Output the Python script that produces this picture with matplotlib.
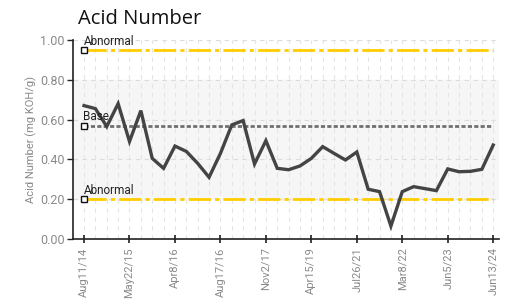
import numpy as np
import matplotlib
matplotlib.use('Agg')
import matplotlib.pyplot as plt

plt.rcParams['font.family'] = ['Roboto', 'DejaVu Sans']

# ── data ──
acid = [0.67, 0.655, 0.565, 0.68, 0.49, 0.645, 0.405, 0.355, 0.467, 0.44,
        0.38, 0.31, 0.43, 0.573, 0.595, 0.377, 0.494, 0.355, 0.348, 0.367,
        0.405, 0.464, 0.43, 0.397, 0.437, 0.25, 0.238, 0.065, 0.238, 0.263,
        0.253, 0.243, 0.352, 0.338, 0.34, 0.35, 0.472]
tick_idx = [0, 4, 8, 12, 16, 20, 24, 28, 32, 36]
tick_labels = ['Aug11/14', 'May22/15', 'Apr8/16', 'Aug17/16', 'Nov2/17',
               'Apr15/19', 'Jul26/21', 'Mar8/22', 'Jun5/23', 'Jun13/24']
limit_names = ['Abnormal', 'Base', 'Abnormal']
limit_values = [0.95, 0.57, 0.20]
band = (0.20, 0.80)

YELLOW = '#FFCC00'
GREY_TXT = '#8a8a8a'

fig = plt.figure(figsize=(5.07, 3.03), dpi=100)
ax = fig.add_axes([0.144, 0.2112, 0.840, 0.657])

x = np.arange(len(acid))
ax.set_xlim(-0.97, len(acid) - 0.5)
ax.set_ylim(0, 1.0)

# normal band
ax.axhspan(band[0], band[1], color='#f6f6f6', zorder=0)

# grid: dashed verticals at every sample, horizontals every 0.2
ax.set_xticks(x, minor=True)
ax.set_xticks(tick_idx)
ax.set_xticklabels(tick_labels, rotation=90, fontsize=8, color=GREY_TXT)
ax.set_yticks(np.arange(0, 1.01, 0.2))
ax.set_yticklabels([f'{v:.2f}' for v in np.arange(0, 1.01, 0.2)],
                   fontsize=9, color=GREY_TXT)
ax.grid(True, which='both', axis='x', color='#e4e4e4', ls=(0, (4, 4)), lw=0.8)
ax.grid(True, which='major', axis='y', color='#dcdcdc', ls=(0, (4, 4)), lw=0.8)
ax.set_axisbelow(True)

ax.tick_params(axis='x', which='major', direction='inout', length=6, width=1.2,
               color='#222222', pad=3)
ax.tick_params(axis='x', which='minor', length=0)
ax.tick_params(axis='y', direction='out', length=4, width=1.0,
               color='#222222', pad=2)

for s in ['top', 'right']:
    ax.spines[s].set_visible(False)
for s in ['left', 'bottom']:
    ax.spines[s].set_color('#222222')
    ax.spines[s].set_linewidth(1.2)

# limit lines
styles = [(YELLOW, (0, (8, 1.5, 1.5, 1.5))),
          ('#707070', (0, (1.5, 0.8))),
          (YELLOW, (0, (8, 1.5, 1.5, 1.5)))]
for name, val, (col, ls) in zip(limit_names, limit_values, styles):
    ax.hlines(val, x[0], x[-1], colors=col, linestyles=ls, lw=2.0, zorder=2)
    ax.plot(x[0], val, marker='s', ms=4.5, mfc='white', mec='#111111',
            mew=1.0, zorder=5, clip_on=False)
    ax.text(x[0] - 0.05, val + 0.012, name, fontsize=8.5, color='#222222',
            ha='left', va='bottom', zorder=6)

# series
ax.plot(x, acid, color='#444444', lw=2.4, solid_joinstyle='miter', zorder=4)

ax.set_ylabel('Acid Number (mg KOH/g)', fontsize=8, color=GREY_TXT, labelpad=2)
fig.text(0.154, 0.905, 'Acid Number', fontsize=14.5, color='#111111',
         ha='left', va='bottom', family=['Open Sans', 'DejaVu Sans'])

fig.savefig('out.png', dpi=100)
